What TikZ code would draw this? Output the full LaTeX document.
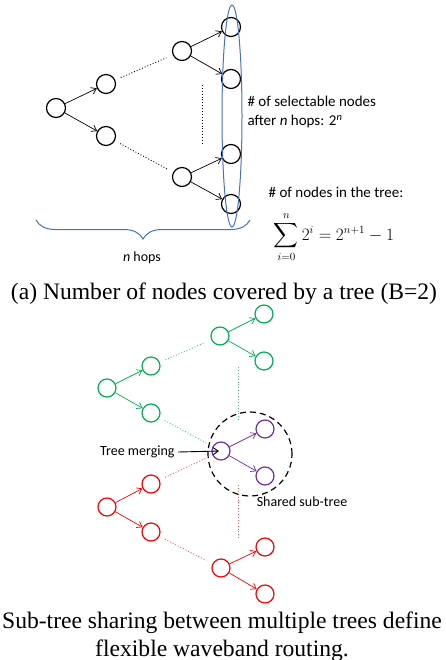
\documentclass[tikz,border=0pt]{standalone}
\usepackage{amsmath}
\usepackage{fontspec}
\setmainfont{Liberation Serif}
\newfontfamily\calib{Carlito}
\usetikzlibrary{arrows.meta,decorations.pathreplacing,positioning}

\definecolor{gtree}{RGB}{0,176,80}
\definecolor{rtree}{RGB}{255,0,0}
\definecolor{ptree}{RGB}{112,48,160}
\definecolor{bmark}{RGB}{68,114,196}

\begin{document}
\begin{tikzpicture}[x=1pt, y=-1pt,
  vtx/.style={circle, draw, line width=1.2pt, minimum size=19pt, inner sep=0pt},
  svtx/.style={vtx, minimum size=18pt},
  hop/.style={-{Straight Barb[length=5pt,width=7pt]}, line width=0.7pt},
  gap/.style={dotted, line width=0.9pt, shorten <=6pt, shorten >=7pt},
  vgap/.style={dotted, line width=0.9pt},
  note/.style={font=\calib\fontsize{15}{19}\selectfont, align=left},
  smallnote/.style={font=\calib\fontsize{14}{17}\selectfont},
  caption/.style={font=\fontsize{23.6}{28}\selectfont, align=center, anchor=base},
]
\useasboundingbox (0,0) rectangle (445,660);

% === (a) tree with B=2 ===
\node[vtx] (a0) at (56,108) {};
\node[vtx] (a1u) at (106,84) {};
\node[vtx] (a1d) at (106,136) {};
\node[vtx] (a2u) at (182,51) {};
\node[vtx] (a2d) at (182,177) {};
\node[vtx] (a3a) at (231,27) {};
\node[vtx] (a3b) at (231,79) {};
\node[vtx] (a3c) at (231,154) {};
\node[vtx] (a3d) at (231,204) {};

\draw[hop] (a0) -- (a1u);
\draw[hop] (a0) -- (a1d);
\draw[hop] (a2u) -- (a3a);
\draw[hop] (a2u) -- (a3b);
\draw[hop] (a2d) -- (a3c);
\draw[hop] (a2d) -- (a3d);
\draw[gap] (a1u) -- (a2u);
\draw[gap] (a1d) -- (a2d);
\coordinate (av1) at (202,85);
\coordinate (av2) at (202,144);
\draw[vgap] (av1) -- (av2);

% selectable leaves and hop count
\draw[bmark, line width=1pt] (232,116) ellipse [x radius=10pt, y radius=111pt];
\draw[bmark, line width=1pt, decorate, decoration={brace, mirror, amplitude=19pt}]
  (36,220) -- (250,220);
\node[smallnote] (hops) at (142,258) {\textit{n} hops};

\node[note, anchor=west] (selnote) at (244,112)
  {\# of selectable nodes\\after \textit{n} hops: 2\textsuperscript{\textit{n}}};
\node[note, inner sep=1pt] (treenote) at (336,192) {\# of nodes in the tree:};
\node[font=\fontsize{16}{19}\selectfont, inner sep=0pt] (treesum) at (334,237)
  {$\displaystyle\sum_{i=0}^{n} 2^i = 2^{n+1}-1$};

\node[caption] (capa) at (224,299) {(a) Number of nodes covered by a tree (B=2)};

% === (b) shared sub-tree ===
% green tree
\node[svtx, gtree] (g0) at (107,388) {};
\node[svtx, gtree] (g1u) at (151,366) {};
\node[svtx, gtree] (g1d) at (151,413) {};
\node[svtx, gtree] (g2) at (220,336) {};
\node[svtx, gtree] (g3a) at (264,314) {};
\node[svtx, gtree] (g3b) at (264,361) {};
% purple (shared) part
\node[svtx, ptree] (mrg) at (221,451) {};
\node[svtx, ptree] (p3a) at (265,429) {};
\node[svtx, ptree] (p3b) at (265,476) {};
% red tree
\node[svtx, rtree] (r0) at (107,507) {};
\node[svtx, rtree] (r1u) at (151,484) {};
\node[svtx, rtree] (r1d) at (151,532) {};
\node[svtx, rtree] (r2) at (221,568) {};
\node[svtx, rtree] (r3a) at (265,547) {};
\node[svtx, rtree] (r3b) at (265,594) {};

\draw[hop, gtree] (g0) -- (g1u);
\draw[hop, gtree] (g0) -- (g1d);
\draw[hop, gtree] (g2) -- (g3a);
\draw[hop, gtree] (g2) -- (g3b);
\draw[gap, gtree!70] (g1u) -- (g2);
\draw[gap, gtree!70] (g1d) -- (mrg);
\coordinate (gv1) at (238,367);
\coordinate (gv2) at (238,420);
\draw[vgap, gtree!70] (gv1) -- (gv2);

\draw[hop, ptree] (mrg) -- (p3a);
\draw[hop, ptree] (mrg) -- (p3b);

\draw[hop, rtree] (r0) -- (r1u);
\draw[hop, rtree] (r0) -- (r1d);
\draw[hop, rtree] (r2) -- (r3a);
\draw[hop, rtree] (r2) -- (r3b);
\draw[gap, rtree!70] (r1u) -- (mrg);
\draw[gap, rtree!70] (r1d) -- (r2);
\coordinate (rv1) at (238,485);
\coordinate (rv2) at (238,538);
\draw[vgap, rtree!70] (rv1) -- (rv2);

\node[circle, draw, dashed, dash pattern=on 6pt off 4pt, line width=1.2pt,
  minimum size=84pt] (shared) at (250,454) {};
\node[smallnote, anchor=east] (tmerge) at (178,452) {Tree merging};
\draw[hop, line width=0.9pt, shorten >=2pt] (tmerge.east) -- (mrg.center);
\node[smallnote] (sharednote) at (302,502) {Shared sub-tree};

\node[caption] (capb) at (222,656)
  {Sub-tree sharing between multiple trees define\\flexible waveband routing.};

\end{tikzpicture}
\end{document}
